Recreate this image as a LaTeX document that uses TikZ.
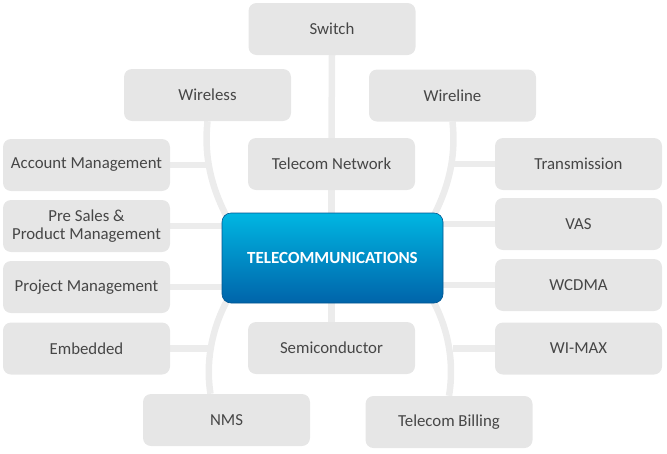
\documentclass[tikz,border=0pt]{standalone}
\usepackage{fontspec}
\setmainfont{Carlito}
\usepackage{xcolor}
\usetikzlibrary{positioning,backgrounds}
\definecolor{tcbox}{RGB}{230,230,230}
\definecolor{tcline}{RGB}{236,236,236}
\definecolor{tctext}{RGB}{70,70,70}
\definecolor{tchubtop}{RGB}{0,182,226}
\definecolor{tchubmid}{RGB}{0,150,210}
\definecolor{tchubbot}{RGB}{0,100,170}

\tikzset{
  topic/.style={fill=tcbox, rounded corners=8pt, minimum width=167pt, minimum height=52pt,
    inner sep=2pt, text=tctext, align=center, font=\fontsize{16.8}{18}\selectfont},
  hubbox/.style={rounded corners=9pt, minimum width=221pt, minimum height=90pt,
    top color=tchubtop, middle color=tchubmid, bottom color=tchubbot,
    draw=tchubbot!85!black, line width=0.6pt, text=white,
    font=\fontsize{17}{19}\selectfont\bfseries},
  link/.style={tcline, line width=6.5pt}
}

\begin{document}
\begin{tikzpicture}[x=1pt, y=-1pt, line cap=butt, line join=round]
  \path[use as bounding box] (0,0) rectangle (667,453);

  % Central topic
  \node[hubbox] (hub) at (332.5,258) {TELECOMMUNICATIONS};

  % Surrounding topics
  \foreach \name/\x/\y/\txt in {
      switch/332/29/Switch, wireless/207.5/95/Wireless, wireline/452.5/95.5/Wireline,
      account/86.5/165/Account Management, telnet/331.5/164/Telecom Network,
      transmission/578.5/164/Transmission,
      presales/86.5/226/{Pre Sales \&\\Product Management}, vas/578.5/224/VAS,
      project/86.5/287/Project Management, wcdma/578.5/285/WCDMA,
      embedded/86.5/348.5/Embedded, semi/331.5/348/Semiconductor, wimax/578.5/348.5/WI-MAX,
      nms/226.5/420/NMS, billing/449/422/Telecom Billing} {
    \node[topic] (\name) at (\x,\y) {\txt};
  }

  % Connectors behind the boxes
  \begin{scope}[on background layer]
    % trunk
    \draw[link] (switch.south) -- (telnet.north);
    \draw[link] (telnet.south) -- (hub.north -| telnet.south);
    \draw[link] (hub.south -| semi.north) -- (semi.north);

    % left arc
    \coordinate (lin) at (240,240);
    \coordinate (lout) at (240,280);
    \draw[link] (wireless.south) .. controls (203,165) and (215,200) .. (lin)
      -- (lout) .. controls (212,318) and (205,360) .. ([xshift=-16pt]nms.north);

    % right arc
    \coordinate (rin) at (420,240);
    \coordinate (rout) at (420,280);
    \draw[link] (wireline.south) .. controls (457,165) and (445,200) .. (rin)
      -- (rout) .. controls (448,318) and (455,360) .. (billing.north);

    % branches to the left column
    \draw[link] (account.east) -- (account.east -| wireless.south);
    \draw[link] (presales.east) -- (presales.east -| hub.west);
    \draw[link] (project.east) -- (project.east -| hub.west);
    \draw[link] (embedded.east) -- (embedded.east -| wireless.south);

    % branches to the right column
    \draw[link] (transmission.west) -- (transmission.west -| wireline.south);
    \draw[link] (vas.west) -- (vas.west -| hub.east);
    \draw[link] (wcdma.west) -- (wcdma.west -| hub.east);
    \draw[link] (wimax.west) -- (wimax.west -| wireline.south);
  \end{scope}
\end{tikzpicture}
\end{document}
